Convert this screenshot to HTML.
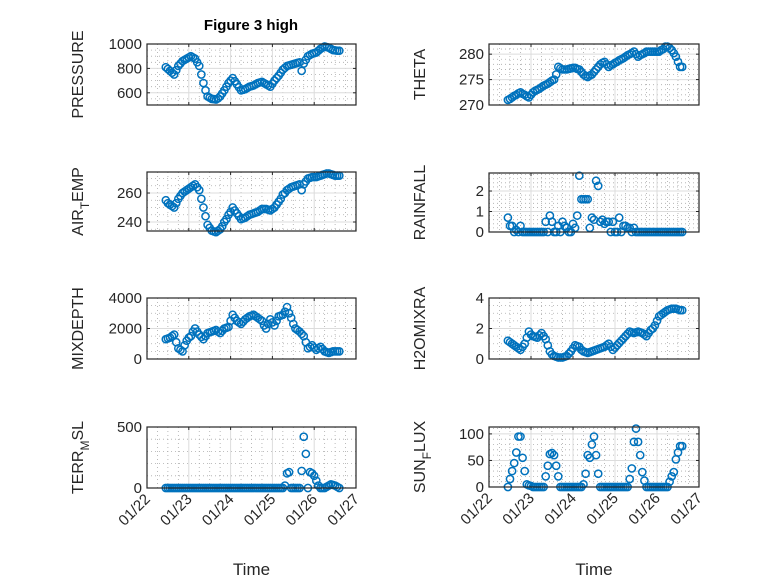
<!DOCTYPE html>
<html><head><meta charset="utf-8"><style>
body{margin:0;background:#fff}
svg{display:block;font-family:"Liberation Sans",sans-serif}
</style></head><body>
<svg id="fig" width="778" height="583" viewBox="0 0 778 583">
<text x="251" y="30" text-anchor="middle" font-size="15" font-weight="bold" fill="#000">Figure 3 high</text>
</svg>
<script>
const times = [22.45,22.50,22.55,22.60,22.65,22.70,22.75,22.80,22.85,22.90,
22.95,23.00,23.05,23.10,23.15,23.20,23.25,23.30,23.35,23.40,
23.45,23.50,23.55,23.60,23.65,23.70,23.75,23.80,23.85,23.90,
23.95,24.00,24.05,24.10,24.15,24.20,24.25,24.30,24.35,24.40,
24.45,24.50,24.55,24.60,24.65,24.70,24.75,24.80,24.85,24.90,
24.95,25.00,25.05,25.10,25.15,25.20,25.25,25.30,25.35,25.40,
25.45,25.50,25.55,25.60,25.65,25.70,25.75,25.80,25.85,25.90,
25.95,26.00,26.05,26.10,26.15,26.20,26.25,26.30,26.35,26.40,
26.45,26.50,26.55,26.60];
const pressure = [810,795,780,765,750,785,820,840,860,870,880,890,900,890,880,850,820,750,680,620,570,560,550,548,545,555,570,595,620,650,680,700,720,695,670,645,620,625,630,640,650,655,660,670,680,685,690,680,670,660,650,675,700,720,740,765,790,805,820,825,830,835,840,845,850,780,840,870,900,910,920,925,930,945,960,970,980,975,970,960,950,948,945,945];
const theta = [271,271.2,271.5,271.8,272,272.3,272.5,272.2,272,271.7,271.5,272,272.5,272.8,273,273.2,273.5,273.8,274,274.2,274.5,274.8,275,276,277.5,277.2,277,277,277,277.1,277.2,277.3,277.3,277.1,277,276.5,276,275.7,275.5,275.8,276,276.5,277,277.5,278,278.3,278.5,278,277.5,277.8,278,278.3,278.5,278.8,279,279.2,279.5,279.8,280,280.2,280.5,280,279.5,279.8,280,280.2,280.5,280.5,280.5,280.5,280.5,280.5,280.5,280.8,281,281.5,281.5,281.2,280.8,280.2,279.5,278.5,277.5,277.5];
const airTemp = [255,253,252,251,250,253,256,258,260,261,262,263,264,265,266,264,262,256,250,244,238,236,234,233.5,233,234,235,237,240,242,245,247,250,248,246,244,242,242.5,243,244,245,245.5,246,246.5,247,248,249,249,249,248.5,248,249,250,252,254,256,259,260,262,263,264,264.5,265,265.5,266,262,266,268,270,270.5,271,271,271,271.5,272,272.5,273,273.5,273.5,273,272.5,272,272,272];
const rainfall = [0.7,0.3,0.3,0,0.1,0,0.3,0,0,0,0,0,0,0,0,0,0,0,0.5,0,0.8,0.5,0,0,0.3,0,0.5,0.3,0.2,0,0,0.4,0.2,0.8,2.75,1.6,1.6,1.6,1.6,0.2,0.7,0.6,2.5,2.25,0.5,0.6,0.4,0.5,0.5,0,0.5,0,0,0.7,0,0.3,0.3,0.2,0.2,0,0.2,0,0,0,0,0,0,0,0,0,0,0,0,0,0,0,0,0,0,0,0,0,0,0];
const mixDepth = [1300,1350,1400,1500,1600,1100,700,600,500,900,1200,1400,1500,1800,2000,1800,1600,1450,1300,1500,1700,1750,1800,1850,1900,1800,1700,1850,2000,2050,2100,2500,2900,2700,2500,2400,2300,2450,2600,2700,2800,2850,2900,2800,2700,2600,2500,2200,2000,2300,2600,2400,2200,2500,2800,2850,2900,3100,3400,3000,2700,2300,2000,1900,1800,1650,1500,1100,700,800,900,750,600,700,800,650,500,450,400,450,500,500,500,500];
const h2o = [1.2,1.1,1.0,0.9,0.8,0.7,0.6,0.8,1.0,1.4,1.8,1.6,1.5,1.45,1.4,1.55,1.7,1.5,1.3,0.9,0.5,0.3,0.2,0.15,0.1,0.1,0.1,0.15,0.2,0.35,0.5,0.7,0.9,0.85,0.8,0.6,0.5,0.45,0.4,0.45,0.5,0.55,0.6,0.65,0.7,0.75,0.8,0.9,1.0,0.8,0.6,0.75,0.9,1.05,1.2,1.35,1.5,1.65,1.8,1.75,1.7,1.75,1.8,1.75,1.7,1.6,1.5,1.7,1.9,2.0,2.2,2.5,2.8,2.9,3.0,3.1,3.2,3.25,3.3,3.3,3.3,3.25,3.2,3.2];
const terrMsl = [0,0,0,0,0,0,0,0,0,0,0,0,0,0,0,0,0,0,0,0,0,0,0,0,0,0,0,0,0,0,0,0,0,0,0,0,0,0,0,0,0,0,0,0,0,0,0,0,0,0,0,0,0,0,0,0,0,20,120,130,0,0,0,0,0,140,420,280,0,130,120,100,60,20,0,0,0,10,20,30,25,20,10,0];
const sunFlux = [0,15,30,45,65,95,95,55,30,5,3,2,0,0,0,0,0,0,20,40,62,64,60,40,20,0,0,0,0,0,0,0,0,0,0,0,5,25,60,55,80,95,60,25,0,0,0,0,0,0,0,0,0,0,0,0,0,0,15,35,85,110,85,60,28,12,0,0,0,0,0,0,0,0,0,0,0,10,20,28,52,65,77,77];
const xTickLabels = ["01/22","01/23","01/24","01/25","01/26","01/27"];
const xTickValues = [22,23,24,25,26,27];

const NS="http://www.w3.org/2000/svg";
const svg=document.getElementById('fig');
function el(tag,attrs,parent){const e=document.createElementNS(NS,tag);for(const k in attrs)e.setAttribute(k,attrs[k]);(parent||svg).appendChild(e);return e;}

const panels=[
 {name:'pressure',data:pressure,x0:147,x1:356,y0:44,y1:105,ymin:500,ymax:1000,ticks:[600,800,1000],minor:50,label:['PRESSURE']},
 {name:'theta',data:theta,x0:489,x1:699,y0:44,y1:105,ymin:270,ymax:282,ticks:[270,275,280],minor:1,label:['THETA']},
 {name:'air-temp',data:airTemp,x0:147,x1:356,y0:172,y1:231,ymin:233.8,ymax:274.5,ticks:[240,260],minor:5,label:['AIR','T','EMP']},
 {name:'rainfall',data:rainfall,x0:489,x1:699,y0:173,y1:232,ymin:0,ymax:2.88,ticks:[0,1,2],minor:0.2,label:['RAINFALL']},
 {name:'mixdepth',data:mixDepth,x0:147,x1:356,y0:298,y1:359,ymin:0,ymax:4000,ticks:[0,2000,4000],minor:500,label:['MIXDEPTH']},
 {name:'h2omixra',data:h2o,x0:489,x1:699,y0:298,y1:359,ymin:0,ymax:4,ticks:[0,2,4],minor:0.5,label:['H2OMIXRA']},
 {name:'terr-msl',data:terrMsl,x0:147,x1:356,y0:427,y1:488,ymin:0,ymax:500,ticks:[0,500],minor:100,label:['TERR','M','SL'],bottom:true},
 {name:'sun-flux',data:sunFlux,x0:489,x1:699,y0:427,y1:487,ymin:0,ymax:113,ticks:[0,50,100],minor:10,label:['SUN','F','LUX'],bottom:true}
];

panels.forEach(p=>{
 const g=el('g',{});
 
 
 const xs=v=>p.x0+(v-22)/5*(p.x1-p.x0);
 const ys=v=>p.y1-(v-p.ymin)/(p.ymax-p.ymin)*(p.y1-p.y0);
 el('rect',{x:p.x0,y:p.y0,width:p.x1-p.x0,height:p.y1-p.y0,fill:'#fff'},g);
 for(let d=22;d<=27.001;d+=0.25){ if(Math.abs(d-Math.round(d))<0.01) continue;
  el('line',{x1:xs(d),x2:xs(d),y1:p.y0,y2:p.y1,stroke:'#aaa','stroke-width':0.8,'stroke-dasharray':'1 3'},g);}
 for(let v=Math.ceil(p.ymin/p.minor)*p.minor;v<=p.ymax;v+=p.minor){
  if(p.ticks.some(t=>Math.abs(t-v)<1e-6)) continue;
  el('line',{x1:p.x0,x2:p.x1,y1:ys(v),y2:ys(v),stroke:'#aaa','stroke-width':0.8,'stroke-dasharray':'1 3'},g);}
 xTickValues.forEach(d=>el('line',{x1:xs(d),x2:xs(d),y1:p.y0,y2:p.y1,stroke:'#dcdcdc','stroke-width':1},g));
 p.ticks.forEach(v=>el('line',{x1:p.x0,x2:p.x1,y1:ys(v),y2:ys(v),stroke:'#dcdcdc','stroke-width':1},g));
 xTickValues.forEach(d=>{el('line',{x1:xs(d),x2:xs(d),y1:p.y1,y2:p.y1-3,stroke:'#262626'},g);el('line',{x1:xs(d),x2:xs(d),y1:p.y0,y2:p.y0+3,stroke:'#262626'},g);});
 p.ticks.forEach(v=>{
  el('line',{x1:p.x0,x2:p.x0+3,y1:ys(v),y2:ys(v),stroke:'#262626'},g);
  el('line',{x1:p.x1,x2:p.x1-3,y1:ys(v),y2:ys(v),stroke:'#262626'},g);
  const t=el('text',{x:p.x0-5,y:ys(v)+5,'text-anchor':'end','font-size':15,fill:'#262626'},g);
  t.textContent=String(v);
  
  
 });
 p.data.forEach((v,i)=>{
  const c=el('circle',{cx:xs(times[i]),cy:ys(v),r:3.6,fill:'none',stroke:'#0072BD','stroke-width':1.5},g);
  
  
 });
 el('rect',{x:p.x0,y:p.y0,width:p.x1-p.x0,height:p.y1-p.y0,fill:'none',stroke:'#262626','stroke-width':1.2},g);
 const cy=(p.y0+p.y1)/2, lx=p.x0-64;
 const yl=el('text',{x:0,y:0,'text-anchor':'middle','font-size':16,fill:'#262626',transform:`translate(${lx},${cy}) rotate(-90)`},g);
 
 
 if(p.label.length===1){yl.textContent=p.label[0];}
 else{
  const a=el('tspan',{},yl);a.textContent=p.label[0];
  const b=el('tspan',{dy:6,'font-size':12},yl);b.textContent=p.label[1];
  const c=el('tspan',{dy:-6},yl);c.textContent=p.label[2];
 }
 if(p.bottom){
  xTickValues.forEach((d,i)=>{
   const t=el('text',{x:0,y:0,'text-anchor':'end','font-size':15,fill:'#262626',transform:`translate(${xs(d)+4},${p.y1+12}) rotate(-45)`},g);
   t.textContent=xTickLabels[i];
   
   
  });
  const xt=el('text',{x:(p.x0+p.x1)/2,y:575,'text-anchor':'middle','font-size':17,fill:'#262626'},g);
  xt.textContent='Time';
  
  
 }
});
</script>
</body></html>
